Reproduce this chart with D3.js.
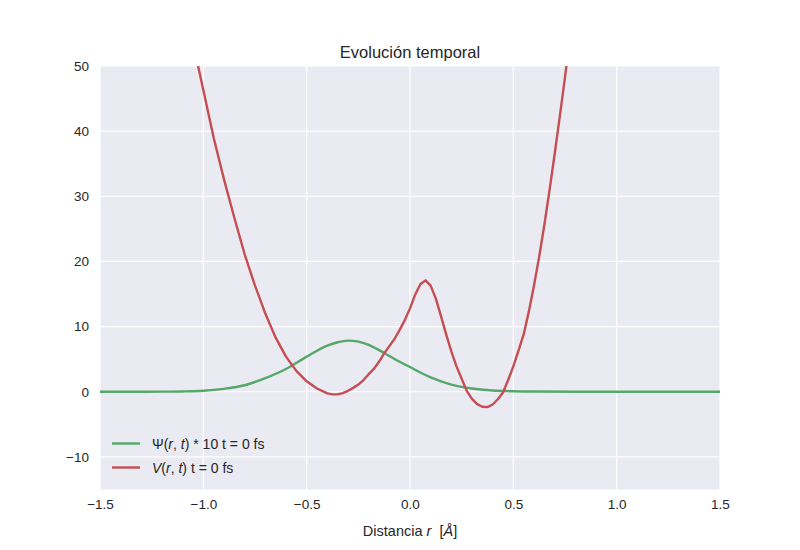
<!DOCTYPE html>
<html lang="es">
<head>
<meta charset="utf-8">
<title>Evolución temporal</title>
<script src="https://cdn.jsdelivr.net/npm/d3@7"></script>
<style>
  body { margin: 0; background: #fff; }
  text { font-family: "Liberation Sans", Arial, sans-serif; fill: #262626; }
</style>
</head>
<body>
<svg width="800" height="550"></svg>
<script>
// wave packet (times 10)
var rPsi = [-1.5, -1.3, -1.2, -1.1, -1.0, -0.9, -0.8, -0.7, -0.6, -0.5, -0.4, -0.35, -0.3, -0.25, -0.2, -0.15, -0.1, -0.05, 0.0, 0.05, 0.1, 0.15, 0.2, 0.3, 0.4, 0.5, 0.6, 0.8, 1.0, 1.5];
var psi  = [0, 0.01, 0.02, 0.05, 0.15, 0.45, 1.0, 2.1, 3.5, 5.4, 7.1, 7.6, 7.85, 7.7, 7.2, 6.4, 5.5, 4.6, 3.8, 2.95, 2.2, 1.6, 1.1, 0.5, 0.2, 0.08, 0.03, 0.01, 0, 0];

// potential V(r)
var rV = [-1.05, -1.0, -0.95, -0.9, -0.85, -0.8, -0.75, -0.7, -0.65, -0.6, -0.55, -0.5, -0.45, -0.4,
          -0.375, -0.35, -0.325, -0.3, -0.275, -0.25, -0.225, -0.2, -0.175, -0.15, -0.125, -0.1, -0.075, -0.05, -0.025,
          0.0, 0.025, 0.05, 0.075, 0.1, 0.125, 0.15, 0.175, 0.2, 0.225, 0.25, 0.275, 0.3, 0.325, 0.35, 0.375,
          0.4, 0.425, 0.45, 0.475, 0.5, 0.525, 0.55, 0.575, 0.6, 0.625, 0.65, 0.675, 0.7, 0.725, 0.75, 0.775];
var V  = [53.6, 46.3, 39.0, 32.6, 26.7, 21.1, 16.3, 12.0, 8.3, 5.4, 3.2, 1.6, 0.5, -0.25,
          -0.4, -0.4, -0.2, 0.15, 0.6, 1.1, 1.8, 2.7, 3.5, 4.6, 5.9, 7.0, 8.1, 9.5, 11.0,
          12.8, 14.9, 16.5, 17.1, 16.3, 14.3, 11.6, 8.8, 6.2, 3.9, 2.0, 0.1, -1.1, -1.9, -2.3, -2.35,
          -1.95, -1.15, -0.1, 1.8, 3.9, 6.3, 8.8, 12.3, 16.3, 20.7, 25.6, 30.9, 36.5, 42.3, 48.3, 54.6];

var xTicks = [-1.5, -1.0, -0.5, 0.0, 0.5, 1.0, 1.5];
var yTicks = [-10, 0, 10, 20, 30, 40, 50];

var margin = {top: 66, right: 80, bottom: 60.5, left: 100},
    width = 800 - margin.left - margin.right,
    height = 550 - margin.top - margin.bottom;

var x = d3.scaleLinear().domain([-1.5, 1.5]).range([0, width]);
var y = d3.scaleLinear().domain([-15, 50]).range([height, 0]);

var svg = d3.select("svg");
var g = svg.append("g")
    .attr("transform", "translate(" + margin.left + "," + margin.top + ")");

// background and grid
g.append("rect")
    .attr("width", width)
    .attr("height", height)
    .attr("fill", "#EAEAF2");

g.append("g")
  .selectAll("line")
  .data(xTicks)
  .enter().append("line")
    .attr("x1", function(d) { return x(d); })
    .attr("x2", function(d) { return x(d); })
    .attr("y1", 0)
    .attr("y2", height)
    .attr("stroke", "#fff")
    .attr("stroke-width", 1.2);

g.append("g")
  .selectAll("line")
  .data(yTicks)
  .enter().append("line")
    .attr("x1", 0)
    .attr("x2", width)
    .attr("y1", function(d) { return y(d); })
    .attr("y2", function(d) { return y(d); })
    .attr("stroke", "#fff")
    .attr("stroke-width", 1.2);

// axes (labels only, seaborn style)
var fmtX = function(d) { return d3.format(".1f")(d).replace("-", "\u2212"); };
var fmtY = function(d) { return String(d).replace("-", "\u2212"); };

var xAxis = g.append("g")
    .attr("transform", "translate(0," + height + ")")
    .call(d3.axisBottom(x).tickValues(xTicks).tickFormat(fmtX).tickSize(0).tickPadding(9.5));
var yAxis = g.append("g")
    .call(d3.axisLeft(y).tickValues(yTicks).tickFormat(fmtY).tickSize(0).tickPadding(11));

[xAxis, yAxis].forEach(function(a) {
  a.select(".domain").remove();
  a.selectAll("text")
    .attr("fill", "#262626")
    .style("font-family", "'Liberation Sans', Arial, sans-serif")
    .style("font-size", "13.5px");
});

// curves
g.append("clipPath").attr("id", "clip")
  .append("rect").attr("width", width).attr("height", height);

var psiLine = d3.line()
    .x(function(d, i) { return x(rPsi[i]); })
    .y(function(d) { return y(d); })
    .curve(d3.curveMonotoneX);

var vLine = d3.line()
    .x(function(d, i) { return x(rV[i]); })
    .y(function(d) { return y(d); });

var plot = g.append("g").attr("clip-path", "url(#clip)");

plot.append("path")
    .datum(psi)
    .attr("d", psiLine)
    .attr("fill", "none")
    .attr("stroke", "#55A868")
    .attr("stroke-width", 2.4)
    .attr("stroke-linejoin", "round");

plot.append("path")
    .datum(V)
    .attr("d", vLine)
    .attr("fill", "none")
    .attr("stroke", "#C44E52")
    .attr("stroke-width", 2.4)
    .attr("stroke-linejoin", "round");

// title and x label
svg.append("text")
    .attr("x", margin.left + width / 2)
    .attr("y", 57.5)
    .attr("text-anchor", "middle")
    .style("font-size", "16.5px")
    .text("Evolución temporal");

var xl = svg.append("text")
    .attr("x", margin.left + width / 2)
    .attr("y", 536)
    .attr("text-anchor", "middle")
    .style("font-size", "14.5px")
    .style("white-space", "pre");
xl.append("tspan").text("Distancia ");
xl.append("tspan").style("font-style", "italic").text("r");
xl.append("tspan").text("  [");
xl.append("tspan").style("font-style", "italic").text("Å");
xl.append("tspan").text("]");

// legend
var legend = [
  {color: "#55A868", parts: [["Ψ(", 0], ["r", 1], [", ", 0], ["t", 1], [") * 10 t = 0 fs", 0]]},
  {color: "#C44E52", parts: [["V", 1], ["(", 0], ["r", 1], [", ", 0], ["t", 1], [") t = 0 fs", 0]]}
];

var lg = g.append("g").attr("transform", "translate(12," + (height - 46) + ")");
var item = lg.selectAll("g")
    .data(legend)
  .enter().append("g")
    .attr("transform", function(d, i) { return "translate(0," + (i * 24) + ")"; });

item.append("line")
    .attr("x1", 0).attr("x2", 28)
    .attr("stroke", function(d) { return d.color; })
    .attr("stroke-width", 2.4);

item.append("text")
    .attr("x", 40)
    .attr("y", 5)
    .style("font-size", "14px")
  .selectAll("tspan")
    .data(function(d) { return d.parts; })
  .enter().append("tspan")
    .style("font-style", function(p) { return p[1] ? "italic" : "normal"; })
    .text(function(p) { return p[0]; });
</script>
</body>
</html>
